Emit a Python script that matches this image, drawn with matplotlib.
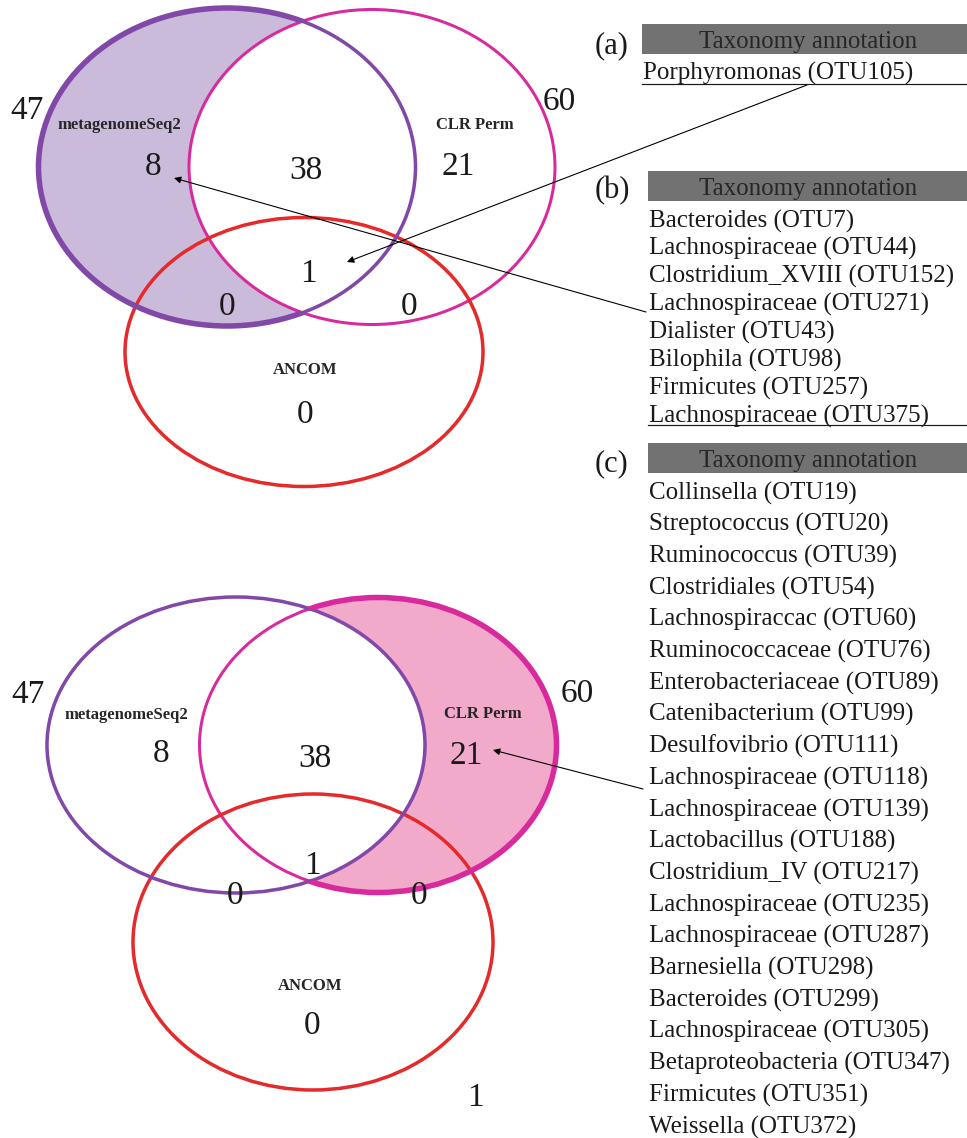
import numpy as np
import matplotlib.pyplot as plt
from matplotlib.patches import Ellipse, Rectangle, PathPatch
from matplotlib.path import Path

plt.rcParams['font.family'] = ['Liberation Serif', 'DejaVu Serif']

# ---------------------------------------------------------------- data
set_names = ['metagenomeSeq2', 'CLR Perm', 'ANCOM']
set_totals = [47, 60, 1]
# only mSeq2, mSeq2&CLR, only CLR, all three, mSeq2&ANCOM, CLR&ANCOM, only ANCOM
region_counts = [8, 38, 21, 1, 0, 0, 0]

taxa_a = ['Porphyromonas (OTU105)']
taxa_b = ['Bacteroides (OTU7)', 'Lachnospiraceae (OTU44)', 'Clostridium_XVIII (OTU152)',
          'Lachnospiraceae (OTU271)', 'Dialister (OTU43)', 'Bilophila (OTU98)',
          'Firmicutes (OTU257)', 'Lachnospiraceae (OTU375)']
taxa_c = ['Collinsella (OTU19)', 'Streptococcus (OTU20)', 'Ruminococcus (OTU39)',
          'Clostridiales (OTU54)', 'Lachnospiraccac (OTU60)', 'Ruminococcaceae (OTU76)',
          'Enterobacteriaceae (OTU89)', 'Catenibacterium (OTU99)', 'Desulfovibrio (OTU111)',
          'Lachnospiraceae (OTU118)', 'Lachnospiraceae (OTU139)', 'Lactobacillus (OTU188)',
          'Clostridium_IV (OTU217)', 'Lachnospiraceae (OTU235)', 'Lachnospiraceae (OTU287)',
          'Barnesiella (OTU298)', 'Bacteroides (OTU299)', 'Lachnospiraceae (OTU305)',
          'Betaproteobacteria (OTU347)', 'Firmicutes (OTU351)', 'Weissella (OTU372)']
header = 'Taxonomy annotation'

# ---------------------------------------------------------------- style
W, H = 967, 1138
c_purple = '#8148a8'
c_pink = '#d82a9c'
c_red = '#e42a2a'
fill_purple = '#cbbbdb'
fill_pink = '#f2aacb'
px = 0.72  # one pixel in points at dpi 100

fig = plt.figure(figsize=(W / 100, H / 100), dpi=100)
ax = fig.add_axes([0, 0, 1, 1])
ax.set_xlim(0, W)
ax.set_ylim(H, 0)
ax.axis('off')


def outside_clip(cx, cy, w, h):
    # whole canvas with an elliptic hole, used to clip outlines
    t = np.linspace(0, 2 * np.pi, 400)
    ex = cx + w / 2 * np.cos(t)
    ey = cy + h / 2 * np.sin(t)
    rect = np.array([[-10, -10], [W + 10, -10], [W + 10, H + 10], [-10, H + 10], [-10, -10]])
    ell = np.column_stack([ex, ey])[::-1]
    verts = np.concatenate([rect, ell])
    codes = ([Path.MOVETO] + [Path.LINETO] * 3 + [Path.CLOSEPOLY]
             + [Path.MOVETO] + [Path.LINETO] * (len(ell) - 2) + [Path.CLOSEPOLY])
    pp = PathPatch(Path(verts, codes), transform=ax.transData, visible=False)
    ax.add_patch(pp)
    return pp


def draw_venn(ell, labels, highlight, ancom_total):
    (pc, pw, ph), (kc, kw, kh), (rc, rw, rh) = ell
    if highlight == 0:
        ax.add_patch(Ellipse(pc, pw, ph, facecolor=fill_purple, edgecolor='none', zorder=1))
        ax.add_patch(Ellipse(kc, kw, kh, facecolor='white', edgecolor='none', zorder=1.5))
    else:
        ax.add_patch(Ellipse(kc, kw, kh, facecolor=fill_pink, edgecolor='none', zorder=1))
        ax.add_patch(Ellipse(pc, pw, ph, facecolor='white', edgecolor='none', zorder=1.5))

    ax.add_patch(Ellipse(kc, kw, kh, fill=False, edgecolor=c_pink, lw=3 * px, zorder=3))
    ax.add_patch(Ellipse(rc, rw, rh, fill=False, edgecolor=c_red, lw=3.5 * px, zorder=3))
    ax.add_patch(Ellipse(pc, pw, ph, fill=False, edgecolor=c_purple, lw=3.5 * px, zorder=3))

    # heavier rim around the highlighted crescent
    if highlight == 0:
        rim = Ellipse(pc, pw, ph, fill=False, edgecolor=c_purple, lw=5.5 * px, zorder=3.2)
        ax.add_patch(rim)
        rim.set_clip_path(outside_clip(kc[0], kc[1], kw, kh))
    else:
        rim = Ellipse(kc, kw, kh, fill=False, edgecolor=c_pink, lw=5.5 * px, zorder=3.2)
        ax.add_patch(rim)
        rim.set_clip_path(outside_clip(pc[0], pc[1], pw, ph))

    # text boxes include the descender, so nudge everything down a little
    for name, pos in zip(set_names, labels['names']):
        ax.text(pos[0], pos[1] + 2, name, fontsize=12, fontweight='bold', color='#262626',
                ha='center', va='center', zorder=5)
    for n, pos in zip(region_counts, labels['regions']):
        ax.text(pos[0], pos[1] + 4, str(n), fontsize=24, color='#1a1a1a',
                ha='center', va='center', zorder=5)
    n_tot = 3 if ancom_total else 2
    for n, pos in zip(set_totals[:n_tot], labels['totals'][:n_tot]):
        ax.text(pos[0], pos[1] + 4, str(n), fontsize=24, color='#1a1a1a',
                ha='center', va='center', zorder=5)


top_ell = [((227, 167), 377, 318), ((372, 167), 366, 315), ((304, 352), 358, 269)]
top_lab = {'names': [(119, 123), (475, 123), (305, 368)],
           'regions': [(153, 163), (306, 167), (458, 163), (308, 270),
                       (227, 303), (409, 303), (305, 411)],
           'totals': [(27, 107), (559, 98)]}
draw_venn(top_ell, top_lab, 0, False)

bot_ell = [((236, 745), 378, 296), ((378, 745), 357, 295), ((313, 942), 360, 296)]
bot_lab = {'names': [(126, 713), (483, 712), (310, 984)],
           'regions': [(161, 750), (315, 755), (466, 752), (312, 862),
                       (235, 892), (419, 892), (312, 1022)],
           'totals': [(28, 691), (577, 690), (475, 1094)]}
draw_venn(bot_ell, bot_lab, 1, True)

# ---------------------------------------------------------------- tables
def table(tag, tag_xy, bar_x, bar_y, rows, row_y0, row_dy, underline=None):
    ax.text(tag_xy[0], tag_xy[1] + 3, tag, fontsize=22, color='#1a1a1a', ha='center', va='center')
    ax.add_patch(Rectangle((bar_x, bar_y), W - bar_x, 30, facecolor='#727272', edgecolor='none'))
    ax.text(808, bar_y + 18, header, fontsize=18, color='#262626', ha='center', va='center')
    for i, r in enumerate(rows):
        ax.text(bar_x + 1, row_y0 + 3 + i * row_dy, r, fontsize=18, color='#1a1a1a',
                ha='left', va='center')
    if underline is not None:
        ax.plot([bar_x, W], [underline, underline], color='#1a1a1a', lw=1.2 * px)


table('(a)', (612, 43), 642, 24, taxa_a, 70, 28, underline=84)
table('(b)', (612, 188), 648, 171, taxa_b, 218, 27.9, underline=425)
table('(c)', (612, 461), 648, 443, taxa_c, 490, 31.7)

# ---------------------------------------------------------------- arrows
arrow_kw = dict(arrowstyle='-|>', color='black', lw=1.1 * px, mutation_scale=10,
                shrinkA=0, shrinkB=0)
ax.annotate('', xy=(347, 262), xytext=(807, 85), arrowprops=arrow_kw, zorder=6)
ax.annotate('', xy=(174, 178), xytext=(646, 312), arrowprops=arrow_kw, zorder=6)
ax.annotate('', xy=(493, 750), xytext=(643, 789), arrowprops=arrow_kw, zorder=6)

plt.savefig('out.png', dpi=100)
